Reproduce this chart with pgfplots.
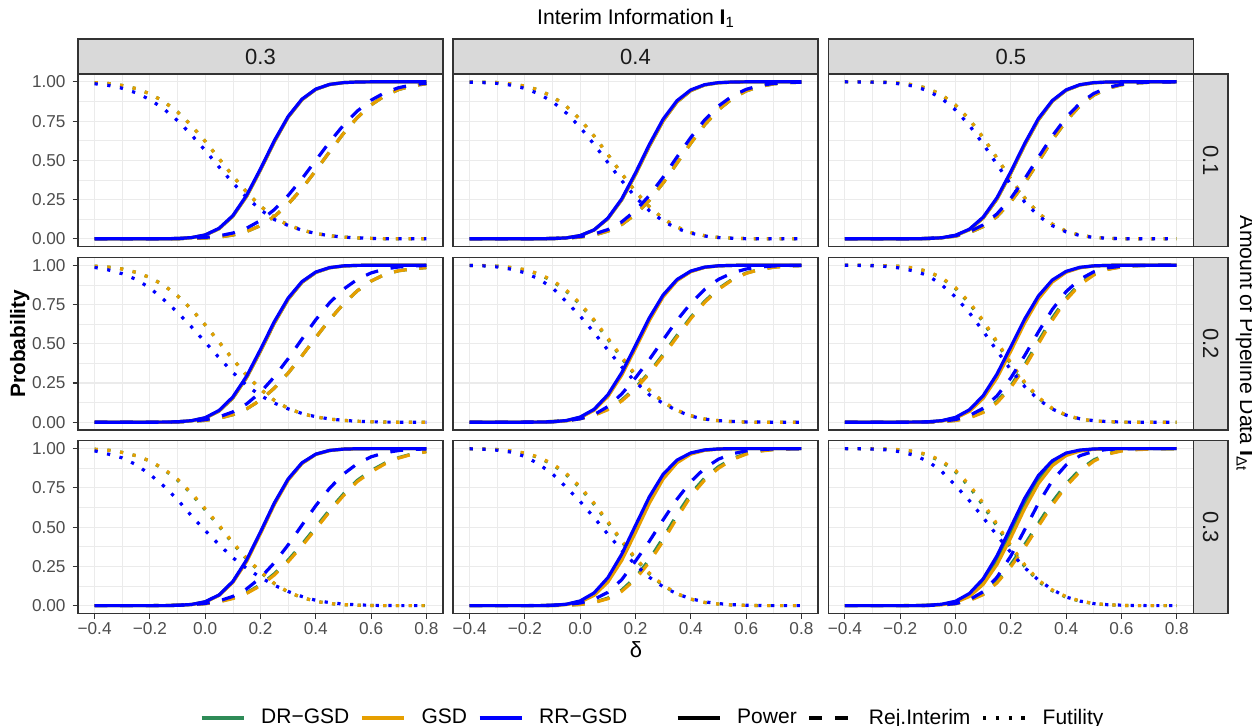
\documentclass[border=0pt]{standalone}
\usepackage{fontspec}
\setmainfont{Liberation Sans}
\usepackage{pgfplots}
\usepackage{pgfplotstable}
\pgfplotsset{compat=1.18}

\definecolor{cG}{HTML}{2E8B57}
\definecolor{cO}{HTML}{E69F00}
\definecolor{cB}{HTML}{0000FF}
\definecolor{grey92}{HTML}{EBEBEB}
\definecolor{grey85}{HTML}{D9D9D9}
\definecolor{grey30}{HTML}{4D4D4D}
\definecolor{grey20}{HTML}{333333}
\definecolor{grey10}{HTML}{1A1A1A}

\tikzset{
  ln/.style={line width=1.6pt, line cap=butt, line join=round},
  pw/.style={ln, solid},
  rj/.style={ln, dash pattern=on 6.4pt off 6.4pt},
  fu/.style={ln, dash pattern=on 1.6pt off 4.8pt},
}

% columns: x, DR-GSD (Pg Rg Fg), GSD (Po Ro Fo), RR-GSD (Pb Rb Fb); P=Power, R=Rej.Interim, F=Futility
% row I_dt=0.1, col I_1=0.3
\pgfplotstableread{
x Pg Rg Fg Po Ro Fo Pb Rb Fb
-0.40 0 0 0.995 0 0 0.995 0 0 0.988
-0.35 0 0 0.989 0 0 0.989 0 0 0.977
-0.30 0 0 0.977 0 0 0.977 0 0 0.959
-0.25 0 0 0.957 0 0 0.957 0 0 0.930
-0.20 0 0 0.924 0 0 0.924 0 0 0.887
-0.15 0 0 0.875 0 0 0.875 0 0.001 0.828
-0.10 0.002 0.001 0.808 0.002 0.001 0.808 0.002 0.002 0.753
-0.05 0.007 0.002 0.722 0.007 0.002 0.722 0.008 0.004 0.663
0.00 0.024 0.005 0.621 0.024 0.005 0.621 0.025 0.009 0.563
0.05 0.064 0.011 0.511 0.064 0.011 0.511 0.067 0.019 0.458
0.10 0.144 0.024 0.400 0.144 0.024 0.400 0.148 0.037 0.356
0.15 0.271 0.047 0.297 0.271 0.047 0.297 0.278 0.068 0.264
0.20 0.439 0.084 0.208 0.439 0.084 0.208 0.446 0.117 0.185
0.25 0.618 0.142 0.137 0.618 0.142 0.137 0.625 0.186 0.123
0.30 0.775 0.221 0.088 0.775 0.221 0.088 0.780 0.276 0.085
0.35 0.886 0.320 0.056 0.886 0.320 0.056 0.890 0.383 0.055
0.40 0.952 0.435 0.034 0.952 0.435 0.034 0.954 0.500 0.034
0.45 0.983 0.555 0.020 0.983 0.555 0.020 0.984 0.617 0.020
0.50 0.995 0.671 0.011 0.995 0.671 0.011 0.995 0.724 0.011
0.55 0.999 0.772 0.006 0.999 0.772 0.006 0.999 0.814 0.006
0.60 1 0.853 0.003 1 0.853 0.003 1 0.883 0.003
0.65 1 0.912 0.001 1 0.912 0.001 1 0.932 0.001
0.70 1 0.951 0 1 0.951 0 1 0.963 0
0.75 1 0.975 0 1 0.975 0 1 0.981 0
0.80 1 0.988 0 1 0.988 0 1 0.991 0
}\Ta
% row 0.1, col 0.4
\pgfplotstableread{
x Pg Rg Fg Po Ro Fo Pb Rb Fb
-0.40 0 0 0.999 0 0 0.999 0 0 0.998
-0.35 0 0 0.998 0 0 0.998 0 0 0.995
-0.30 0 0 0.995 0 0 0.995 0 0 0.990
-0.25 0 0 0.987 0 0 0.987 0 0 0.979
-0.20 0 0 0.973 0 0 0.973 0 0 0.958
-0.15 0 0.001 0.948 0 0.001 0.948 0 0.001 0.924
-0.10 0.002 0.002 0.906 0.002 0.002 0.906 0.002 0.002 0.873
-0.05 0.006 0.004 0.844 0.006 0.004 0.844 0.006 0.006 0.801
0.00 0.020 0.011 0.760 0.020 0.011 0.760 0.021 0.014 0.710
0.05 0.056 0.024 0.655 0.056 0.024 0.655 0.057 0.030 0.602
0.10 0.128 0.049 0.537 0.128 0.049 0.537 0.132 0.059 0.486
0.15 0.248 0.091 0.415 0.248 0.091 0.415 0.254 0.108 0.371
0.20 0.410 0.156 0.301 0.410 0.156 0.301 0.420 0.180 0.266
0.25 0.590 0.245 0.204 0.590 0.245 0.204 0.601 0.276 0.179
0.30 0.752 0.356 0.128 0.752 0.356 0.128 0.763 0.393 0.113
0.35 0.872 0.482 0.075 0.872 0.482 0.075 0.880 0.521 0.066
0.40 0.944 0.609 0.040 0.944 0.609 0.040 0.949 0.646 0.036
0.45 0.980 0.726 0.020 0.980 0.726 0.020 0.982 0.757 0.018
0.50 0.994 0.822 0.009 0.994 0.822 0.009 0.995 0.846 0.008
0.55 0.998 0.893 0.004 0.998 0.893 0.004 0.999 0.910 0.004
0.60 1 0.942 0.001 1 0.942 0.001 1 0.952 0.001
0.65 1 0.971 0 1 0.971 0 1 0.977 0
0.70 1 0.987 0 1 0.987 0 1 0.990 0
0.75 1 0.994 0 1 0.994 0 1 0.996 0
0.80 1 0.998 0 1 0.998 0 1 0.998 0
}\Tb
% row 0.1, col 0.5
\pgfplotstableread{
x Pg Rg Fg Po Ro Fo Pb Rb Fb
-0.40 0 0 1 0 0 1 0 0 1
-0.35 0 0 1 0 0 1 0 0 0.999
-0.30 0 0 0.999 0 0 0.999 0 0 0.998
-0.25 0 0 0.997 0 0 0.997 0 0 0.995
-0.20 0 0 0.992 0 0 0.992 0 0 0.987
-0.15 0 0.001 0.980 0 0.001 0.980 0 0.001 0.972
-0.10 0.002 0.002 0.958 0.002 0.002 0.958 0.002 0.003 0.943
-0.05 0.006 0.007 0.917 0.006 0.007 0.917 0.007 0.008 0.894
0.00 0.021 0.017 0.852 0.021 0.017 0.852 0.023 0.020 0.821
0.05 0.058 0.039 0.761 0.058 0.039 0.761 0.061 0.045 0.723
0.10 0.132 0.078 0.645 0.132 0.078 0.645 0.138 0.089 0.604
0.15 0.253 0.142 0.514 0.253 0.142 0.514 0.262 0.159 0.474
0.20 0.418 0.236 0.381 0.418 0.236 0.381 0.428 0.258 0.346
0.25 0.597 0.355 0.261 0.597 0.355 0.261 0.607 0.382 0.235
0.30 0.758 0.492 0.164 0.758 0.492 0.164 0.767 0.520 0.146
0.35 0.876 0.629 0.094 0.876 0.629 0.094 0.881 0.655 0.084
0.40 0.946 0.751 0.049 0.946 0.751 0.049 0.949 0.773 0.044
0.45 0.980 0.848 0.023 0.980 0.848 0.023 0.982 0.864 0.021
0.50 0.994 0.915 0.010 0.994 0.915 0.010 0.995 0.926 0.009
0.55 0.998 0.958 0.004 0.998 0.958 0.004 0.999 0.964 0.004
0.60 1 0.981 0.001 1 0.981 0.001 1 0.984 0.001
0.65 1 0.992 0 1 0.992 0 1 0.994 0
0.70 1 0.997 0 1 0.997 0 1 0.998 0
0.75 1 0.999 0 1 0.999 0 1 0.999 0
0.80 1 1 0 1 1 0 1 1 0
}\Tc
% row 0.2, col 0.3
\pgfplotstableread{
x Pg Rg Fg Po Ro Fo Pb Rb Fb
-0.40 0 0 0.994 0 0 0.994 0 0 0.986
-0.35 0 0 0.988 0 0 0.988 0 0 0.970
-0.30 0 0 0.976 0 0 0.976 0 0 0.946
-0.25 0 0 0.955 0 0 0.955 0 0 0.910
-0.20 0 0 0.922 0 0 0.922 0 0 0.855
-0.15 0 0 0.873 0 0 0.873 0.001 0.001 0.781
-0.10 0.003 0.002 0.805 0.003 0.002 0.805 0.003 0.003 0.700
-0.05 0.009 0.005 0.720 0.009 0.005 0.720 0.010 0.007 0.608
0.00 0.027 0.012 0.620 0.027 0.012 0.620 0.029 0.016 0.510
0.05 0.071 0.025 0.511 0.071 0.025 0.511 0.075 0.034 0.411
0.10 0.154 0.048 0.401 0.154 0.048 0.401 0.161 0.066 0.317
0.15 0.285 0.085 0.299 0.285 0.085 0.299 0.294 0.117 0.234
0.20 0.453 0.141 0.210 0.453 0.141 0.210 0.464 0.191 0.170
0.25 0.631 0.217 0.139 0.631 0.217 0.139 0.641 0.289 0.122
0.30 0.783 0.313 0.088 0.783 0.313 0.088 0.791 0.405 0.085
0.35 0.891 0.423 0.055 0.891 0.423 0.055 0.896 0.530 0.056
0.40 0.954 0.540 0.034 0.954 0.540 0.034 0.957 0.653 0.035
0.45 0.984 0.653 0.020 0.984 0.653 0.020 0.985 0.761 0.021
0.50 0.995 0.754 0.012 0.995 0.754 0.012 0.996 0.847 0.012
0.55 0.999 0.837 0.006 0.999 0.837 0.006 0.999 0.910 0.006
0.60 1 0.899 0.003 1 0.899 0.003 1 0.951 0.003
0.65 1 0.942 0.001 1 0.942 0.001 1 0.976 0.001
0.70 1 0.965 0 1 0.965 0 1 0.989 0
0.75 1 0.977 0 1 0.977 0 1 0.996 0
0.80 1 0.985 0 1 0.985 0 1 0.998 0
}\Td
% row 0.2, col 0.4
\pgfplotstableread{
x Pg Rg Fg Po Ro Fo Pb Rb Fb
-0.40 0 0 0.999 0 0 0.999 0 0 0.999
-0.35 0 0 0.9975 0 0 0.998 0 0 0.996
-0.30 0 0 0.994 0 0 0.994 0 0 0.989
-0.25 0 0 0.985 0 0 0.986 0 0 0.975
-0.20 0 0.001 0.971 0 0.001 0.972 0 0.001 0.952
-0.15 0.001 0.002 0.943 0.001 0.002 0.946 0.001 0.001 0.913
-0.10 0.003 0.005 0.899 0.0025 0.0045 0.904 0.003 0.004 0.855
-0.05 0.010 0.011 0.834 0.009 0.010 0.841 0.011 0.009 0.768
0.00 0.031 0.023 0.750 0.029 0.022 0.757 0.033 0.022 0.676
0.05 0.079 0.046 0.646 0.076 0.044 0.653 0.082 0.048 0.571
0.10 0.169 0.084 0.529 0.163 0.080 0.536 0.175 0.100 0.460
0.15 0.307 0.141 0.409 0.299 0.135 0.416 0.315 0.180 0.353
0.20 0.481 0.219 0.297 0.471 0.212 0.303 0.489 0.283 0.256
0.25 0.657 0.318 0.202 0.648 0.310 0.207 0.665 0.399 0.175
0.30 0.805 0.432 0.128 0.799 0.423 0.131 0.811 0.525 0.120
0.35 0.906 0.553 0.075 0.902 0.543 0.077 0.909 0.649 0.074
0.40 0.961 0.669 0.041 0.959 0.660 0.042 0.963 0.758 0.039
0.45 0.987 0.770 0.020 0.986 0.763 0.021 0.988 0.846 0.020
0.50 0.996 0.851 0.010 0.996 0.846 0.010 0.9965 0.910 0.010
0.55 0.999 0.910 0.004 0.999 0.907 0.004 0.999 0.951 0.005
0.60 1 0.950 0.0015 1 0.948 0.0015 1 0.976 0.002
0.65 1 0.974 0 1 0.973 0 1 0.989 0.001
0.70 1 0.988 0 1 0.987 0 1 0.9955 0
0.75 1 0.995 0 1 0.994 0 1 0.998 0
0.80 1 0.998 0 1 0.998 0 1 0.999 0
}\Te
% row 0.2, col 0.5
\pgfplotstableread{
x Pg Rg Fg Po Ro Fo Pb Rb Fb
-0.40 0 0 1 0 0 1 0 0 1
-0.35 0 0 1 0 0 1 0 0 0.999
-0.30 0 0 0.999 0 0 0.999 0 0 0.997
-0.25 0 0 0.997 0 0 0.997 0 0 0.992
-0.20 0 0 0.993 0 0 0.993 0 0 0.982
-0.15 0.001 0 0.981 0.0005 0 0.982 0.001 0.001 0.963
-0.10 0.0025 0.0012 0.960 0.002 0.001 0.961 0.003 0.002 0.935
-0.05 0.009 0.004 0.918 0.008 0.0035 0.921 0.010 0.006 0.875
0.00 0.028 0.012 0.852 0.026 0.0105 0.857 0.031 0.017 0.798
0.05 0.074 0.030 0.758 0.069 0.027 0.765 0.079 0.042 0.698
0.10 0.160 0.067 0.639 0.152 0.062 0.648 0.169 0.089 0.580
0.15 0.295 0.133 0.505 0.283 0.124 0.514 0.307 0.168 0.455
0.20 0.467 0.232 0.370 0.453 0.221 0.378 0.481 0.282 0.334
0.25 0.644 0.365 0.250 0.632 0.350 0.256 0.657 0.424 0.228
0.30 0.795 0.515 0.154 0.785 0.500 0.159 0.805 0.576 0.144
0.35 0.900 0.664 0.086 0.893 0.650 0.089 0.906 0.718 0.084
0.40 0.958 0.790 0.044 0.955 0.779 0.046 0.961 0.832 0.045
0.45 0.985 0.883 0.020 0.984 0.876 0.021 0.987 0.911 0.022
0.50 0.996 0.943 0.008 0.9955 0.938 0.0087 0.996 0.958 0.010
0.55 0.999 0.975 0.003 0.999 0.973 0.0033 0.999 0.983 0.004
0.60 1 0.990 0.001 1 0.9895 0.0011 1 0.994 0.0015
0.65 1 0.997 0 1 0.9965 0 1 0.998 0
0.70 1 0.999 0 1 0.999 0 1 0.999 0
0.75 1 1 0 1 1 0 1 1 0
0.80 1 1 0 1 1 0 1 1 0
}\Tf
% row 0.3, col 0.3
\pgfplotstableread{
x Pg Rg Fg Po Ro Fo Pb Rb Fb
-0.40 0 0 0.996 0 0 0.996 0 0 0.986
-0.35 0 0 0.990 0 0 0.990 0 0 0.965
-0.30 0 0 0.976 0 0 0.976 0 0 0.941
-0.25 0 0 0.955 0 0 0.955 0 0 0.898
-0.20 0 0 0.921 0 0 0.922 0 0 0.836
-0.15 0 0.001 0.868 0 0.001 0.872 0 0.001 0.762
-0.10 0.002 0.003 0.800 0.002 0.0025 0.805 0.002 0.0023 0.675
-0.05 0.007 0.007 0.712 0.007 0.006 0.718 0.0075 0.006 0.573
0.00 0.024 0.013 0.610 0.023 0.012 0.617 0.025 0.014 0.478
0.05 0.066 0.026 0.506 0.065 0.024 0.513 0.068 0.030 0.389
0.10 0.151 0.048 0.396 0.148 0.045 0.402 0.154 0.059 0.305
0.15 0.287 0.082 0.297 0.282 0.078 0.302 0.292 0.107 0.237
0.20 0.464 0.133 0.213 0.459 0.127 0.217 0.470 0.178 0.180
0.25 0.649 0.203 0.140 0.644 0.195 0.142 0.654 0.273 0.130
0.30 0.803 0.290 0.086 0.799 0.280 0.087 0.807 0.387 0.090
0.35 0.907 0.391 0.051 0.905 0.380 0.052 0.910 0.513 0.058
0.40 0.964 0.500 0.028 0.963 0.489 0.028 0.965 0.637 0.034
0.45 0.988 0.610 0.013 0.988 0.599 0.013 0.989 0.748 0.019
0.50 0.997 0.711 0.006 0.997 0.701 0.006 0.997 0.838 0.010
0.55 0.999 0.798 0.003 0.999 0.790 0.003 0.9995 0.904 0.005
0.60 1 0.860 0.001 1 0.852 0.001 1 0.948 0.002
0.65 1 0.908 0 1 0.903 0 1 0.974 0.001
0.70 1 0.943 0 1 0.940 0 1 0.988 0
0.75 1 0.967 0 1 0.965 0 1 0.995 0
0.80 1 0.982 0 1 0.980 0 1 0.998 0
}\Tg
% row 0.3, col 0.4
\pgfplotstableread{
x Pg Rg Fg Po Ro Fo Pb Rb Fb
-0.40 0 0 0.999 0 0 0.999 0 0 0.999
-0.35 0 0 0.9975 0 0 0.998 0 0 0.996
-0.30 0 0 0.994 0 0 0.994 0 0 0.990
-0.25 0 0 0.985 0 0 0.986 0 0 0.978
-0.20 0 0 0.971 0 0 0.972 0 0 0.950
-0.15 0 0 0.943 0 0 0.946 0 0.001 0.902
-0.10 0.002 0.001 0.899 0.0016 0.0007 0.904 0.002 0.003 0.838
-0.05 0.008 0.003 0.834 0.007 0.0025 0.841 0.009 0.007 0.754
0.00 0.027 0.008 0.750 0.023 0.007 0.757 0.030 0.017 0.663
0.05 0.073 0.021 0.646 0.065 0.019 0.653 0.081 0.040 0.561
0.10 0.163 0.048 0.529 0.150 0.044 0.536 0.178 0.085 0.455
0.15 0.307 0.099 0.409 0.287 0.091 0.416 0.327 0.165 0.353
0.20 0.489 0.180 0.297 0.466 0.168 0.303 0.511 0.284 0.260
0.25 0.673 0.293 0.202 0.652 0.277 0.207 0.693 0.410 0.181
0.30 0.822 0.432 0.128 0.807 0.412 0.131 0.837 0.547 0.120
0.35 0.919 0.579 0.075 0.910 0.559 0.077 0.927 0.678 0.075
0.40 0.970 0.713 0.041 0.965 0.698 0.042 0.973 0.790 0.044
0.45 0.991 0.813 0.020 0.989 0.800 0.021 0.992 0.875 0.024
0.50 0.998 0.885 0.010 0.997 0.875 0.010 0.998 0.933 0.013
0.55 0.9995 0.936 0.004 0.999 0.930 0.004 1 0.967 0.006
0.60 1 0.969 0.0015 1 0.965 0.0015 1 0.986 0.003
0.65 1 0.986 0 1 0.984 0 1 0.994 0.001
0.70 1 0.995 0 1 0.994 0 1 0.998 0
0.75 1 0.998 0 1 0.998 0 1 0.999 0
0.80 1 1 0 1 1 0 1 1 0
}\Th
% row 0.3, col 0.5
\pgfplotstableread{
x Pg Rg Fg Po Ro Fo Pb Rb Fb
-0.40 0 0 1 0 0 1 0 0 1
-0.35 0 0 1 0 0 1 0 0 0.999
-0.30 0 0 0.999 0 0 0.999 0 0 0.997
-0.25 0 0 0.997 0 0 0.9975 0 0 0.992
-0.20 0 0 0.992 0 0 0.993 0 0 0.980
-0.15 0 0.001 0.981 0 0.001 0.983 0 0 0.958
-0.10 0.002 0.002 0.958 0.0015 0.0015 0.962 0.002 0.001 0.920
-0.05 0.007 0.005 0.917 0.006 0.004 0.923 0.009 0.004 0.855
0.00 0.024 0.013 0.852 0.021 0.012 0.861 0.028 0.013 0.765
0.05 0.066 0.035 0.758 0.058 0.032 0.770 0.077 0.037 0.669
0.10 0.150 0.076 0.638 0.135 0.070 0.653 0.171 0.089 0.561
0.15 0.286 0.155 0.505 0.262 0.145 0.519 0.317 0.181 0.448
0.20 0.462 0.262 0.370 0.433 0.248 0.383 0.500 0.316 0.339
0.25 0.647 0.388 0.250 0.618 0.370 0.261 0.683 0.483 0.242
0.30 0.802 0.525 0.154 0.778 0.506 0.162 0.829 0.652 0.163
0.35 0.907 0.660 0.095 0.891 0.641 0.100 0.923 0.796 0.103
0.40 0.963 0.776 0.054 0.956 0.760 0.058 0.972 0.896 0.055
0.45 0.988 0.866 0.028 0.985 0.854 0.030 0.991 0.955 0.029
0.50 0.997 0.928 0.013 0.996 0.920 0.014 0.998 0.983 0.013
0.55 0.999 0.968 0.005 0.999 0.965 0.006 1 0.995 0.006
0.60 1 0.987 0.002 1 0.985 0.002 1 0.999 0.003
0.65 1 0.995 0 1 0.993 0 1 1 0.001
0.70 1 0.998 0 1 0.997 0 1 1 0
0.75 1 0.999 0 1 0.999 0 1 1 0
0.80 1 1 0 1 1 0 1 1 0
}\Ti

\pgfplotsset{
  panel/.style={
    anchor=north west, scale only axis, width=182.5pt, height=86.35pt,
    xmin=-0.46, xmax=0.86, ymin=-0.05, ymax=1.05,
    xtick={-0.4,-0.2,0,0.2,0.4,0.6,0.8},
    minor xtick={-0.3,-0.1,0.1,0.3,0.5,0.7},
    ytick={0,0.25,0.5,0.75,1},
    minor ytick={0.125,0.375,0.625,0.875},
    grid=both,
    major grid style={draw=grey92, line width=0.55pt},
    minor grid style={draw=grey92, line width=0.3pt},
    axis line style={draw=grey20, line width=0.65pt},
    tick align=outside, tick pos=left,
    xticklabel pos=lower, yticklabel pos=left,
    major tick length=2.7pt, minor tick length=0pt,
    tick style={draw=grey20, line width=0.55pt},
    xmajorticks=false, ymajorticks=false,
    xmajorgrids=true, ymajorgrids=true, xminorgrids=true, yminorgrids=true,
    every tick label/.append style={font=\fontsize{8.6}{10}\selectfont, text=grey30},
    xticklabel style={yshift=1.5pt},
  },
  xlab/.style={xmajorticks=true, xticklabels={−0.4,−0.2,0.0,0.2,0.4,0.6,0.8}},
  ylab/.style={ymajorticks=true, yticklabels={0.00,0.25,0.50,0.75,1.00}},
}

\newcommand{\series}[1]{%
  \addplot[cG,pw] table[x=x,y=Pg]{#1};
  \addplot[cG,rj] table[x=x,y=Rg]{#1};
  \addplot[cG,fu] table[x=x,y=Fg]{#1};
  \addplot[cO,pw] table[x=x,y=Po]{#1};
  \addplot[cO,rj] table[x=x,y=Ro]{#1};
  \addplot[cO,fu] table[x=x,y=Fo]{#1};
  \addplot[cB,pw] table[x=x,y=Pb]{#1};
  \addplot[cB,rj] table[x=x,y=Rb]{#1};
  \addplot[cB,fu] table[x=x,y=Fb]{#1};
}

\begin{document}
\begin{tikzpicture}
\useasboundingbox (0,0) rectangle (626pt,363pt);

% row 1
\begin{axis}[panel, ylab, at={(39pt,326pt)}] \series{\Ta} \end{axis}
\begin{axis}[panel, at={(226.5pt,326pt)}] \series{\Tb} \end{axis}
\begin{axis}[panel, at={(414.15pt,326pt)}] \series{\Tc} \end{axis}
% row 2
\begin{axis}[panel, ylab, at={(39pt,234.3pt)}] \series{\Td} \end{axis}
\begin{axis}[panel, at={(226.5pt,234.3pt)}] \series{\Te} \end{axis}
\begin{axis}[panel, at={(414.15pt,234.3pt)}] \series{\Tf} \end{axis}
% row 3
\begin{axis}[panel, ylab, xlab, at={(39pt,142.6pt)}] \series{\Tg} \end{axis}
\begin{axis}[panel, xlab, at={(226.5pt,142.6pt)}] \series{\Th} \end{axis}
\begin{axis}[panel, xlab, at={(414.15pt,142.6pt)}] \series{\Ti} \end{axis}

% strips
\foreach \cx/\lab in {39/0.3, 226.5/0.4, 414.15/0.5}{
  \draw[fill=grey85, draw=grey20, line width=0.65pt] (\cx pt,326pt) rectangle ++(182.5pt,17.5pt);
  \node[text=grey10, font=\fontsize{11}{13}\selectfont] at (\cx pt+91.25pt,334.75pt) {\lab};
}
\foreach \ry/\lab in {326/0.1, 234.3/0.2, 142.6/0.3}{
  \draw[fill=grey85, draw=grey20, line width=0.65pt] (596.65pt,\ry pt) rectangle ++(17.35pt,-86.35pt);
  \node[rotate=-90, text=grey10, font=\fontsize{11}{13}\selectfont] at (605.3pt,\ry pt-43.175pt) {\lab};
}

% titles
\node[anchor=base, font=\fontsize{10.6}{12}\selectfont] at (318pt,350.75pt) {Interim Information \textbf{I}\textsubscript{1}};
\node[anchor=base, font=\fontsize{11}{13}\selectfont] at (318pt,34pt) {δ};
\node[rotate=90, anchor=base, font=\bfseries\fontsize{10.4}{12}\selectfont] at (12.5pt,191.15pt) {Probability};
\node[rotate=-90, anchor=base, font=\fontsize{10.6}{12}\selectfont] at (620pt,191.15pt) {Amount of Pipeline Data \textbf{I}\textsubscript{Δt}};

% legends
\begin{axis}[at={(0pt,0pt)}, anchor=south west, scale only axis, width=626pt, height=363pt,
  hide axis, xmin=0, xmax=1, ymin=0, ymax=1,
  legend columns=3, legend cell align=left,
  legend image code/.code={\draw[#1] (0pt,0pt) -- (21pt,0pt);},
  legend style={at={(axis description cs:0.15974,0.01102)}, anchor=west, draw=none, fill=none,
    inner sep=0pt, outer sep=0pt, font=\fontsize{10.5}{12}\selectfont,
    /tikz/every odd column/.append style={column sep=6pt},
    /tikz/every even column/.append style={column sep=3.5pt}}]
\addlegendimage{cG,pw}\addlegendentry{DR−GSD}
\addlegendimage{cO,pw}\addlegendentry{GSD}
\addlegendimage{cB,pw}\addlegendentry{RR−GSD}
\end{axis}
\begin{axis}[at={(0pt,0pt)}, anchor=south west, scale only axis, width=626pt, height=363pt,
  hide axis, xmin=0, xmax=1, ymin=0, ymax=1,
  legend columns=3, legend cell align=left,
  legend image code/.code={\draw[#1] (0pt,0pt) -- (21pt,0pt);},
  legend style={at={(axis description cs:0.53994,0.01102)}, anchor=west, draw=none, fill=none,
    inner sep=0pt, outer sep=0pt, font=\fontsize{10.5}{12}\selectfont,
    /tikz/every odd column/.append style={column sep=6pt},
    /tikz/every even column/.append style={column sep=3.5pt}}]
\addlegendimage{black,pw}\addlegendentry{Power}
\addlegendimage{black,rj}\addlegendentry{Rej.Interim}
\addlegendimage{black,fu}\addlegendentry{Futility}
\end{axis}
\end{tikzpicture}
\end{document}
